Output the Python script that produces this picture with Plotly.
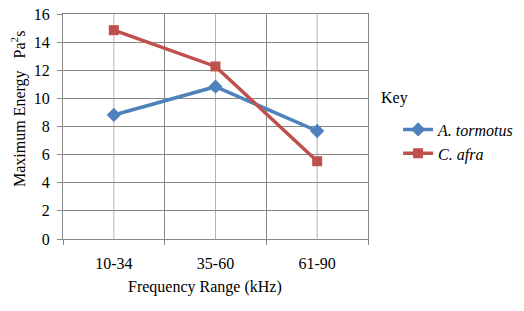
import plotly.graph_objects as go

categories = ["10-34", "35-60", "61-90"]
tormotus = [8.82, 10.83, 7.68]
afra = [14.85, 12.27, 5.53]
series_names = ["<i>A. tormotus</i>", "<i>C. afra</i>"]
y_ticks = [0, 2, 4, 6, 8, 10, 12, 14, 16]

FONT = "Liberation Serif, Times New Roman, serif"
GRID = "#878787"
FS = 16

fig = go.Figure()
fig.add_trace(go.Scatter(x=categories, y=tormotus, name=series_names[0], mode="lines+markers",
                         legendgroup="a",
                         line=dict(color="#4F81BD", width=3.5),
                         marker=dict(symbol="diamond", size=11, color="#4F81BD")))
fig.add_trace(go.Scatter(x=categories, y=afra, name=series_names[1], mode="lines+markers",
                         legendgroup="b",
                         line=dict(color="#C0504D", width=3.5),
                         marker=dict(symbol="square", size=10, color="#C0504D")))

for c in categories:
    fig.add_shape(type="line", xref="x", yref="paper", x0=c, x1=c, y0=0, y1=1,
                  line=dict(color="#b3b3b3", width=1), layer="below")

fig.update_layout(
    template="none",
    width=516, height=303,
    margin=dict(l=55, r=155, t=6, b=72, pad=0),
    paper_bgcolor="white", plot_bgcolor="white",
    font=dict(family=FONT, size=FS, color="black"),
    showlegend=True,
    legend=dict(x=1.095, y=0.562, xanchor="left", yanchor="top", bgcolor="rgba(0,0,0,0)",
                font=dict(family=FONT, size=FS, color="black"), itemwidth=30, tracegroupgap=0,
                traceorder="grouped"),
    xaxis=dict(type="category", tickson="boundaries", showgrid=True, gridcolor=GRID, gridwidth=1,
               showline=True, linecolor=GRID, linewidth=1, mirror=True,
               ticks="outside", ticklen=5, tickcolor=GRID, range=[-0.5, 2.5],
               ticklabelstandoff=10, ticklabeloverflow="allow",
               tickfont=dict(family=FONT, size=FS, color="black")),
    yaxis=dict(range=[0, 16], tickvals=y_ticks, showgrid=True, gridcolor=GRID, gridwidth=1,
               showline=True, linecolor=GRID, linewidth=1, mirror=True,
               ticks="outside", ticklen=5, tickcolor=GRID, zeroline=False,
               ticklabelstandoff=4, ticklabeloverflow="allow",
               tickfont=dict(family=FONT, size=FS, color="black")),
    annotations=[
        dict(text="Maximum Energy   Pa<sup>2</sup>s", textangle=-90, xref="paper", yref="paper",
             x=-0.144, y=0.578, xanchor="center", yanchor="middle", showarrow=False,
             font=dict(family=FONT, size=FS)),
        dict(text="Frequency Range (kHz)", xref="paper", yref="paper",
             x=0.464, y=-0.213, xanchor="center", yanchor="middle", showarrow=False,
             font=dict(family=FONT, size=FS)),
        dict(text="Key", xref="paper", yref="paper",
             x=1.036, y=0.627, xanchor="left", yanchor="middle", showarrow=False,
             font=dict(family=FONT, size=FS)),
    ],
)

fig.write_html("out.html")
